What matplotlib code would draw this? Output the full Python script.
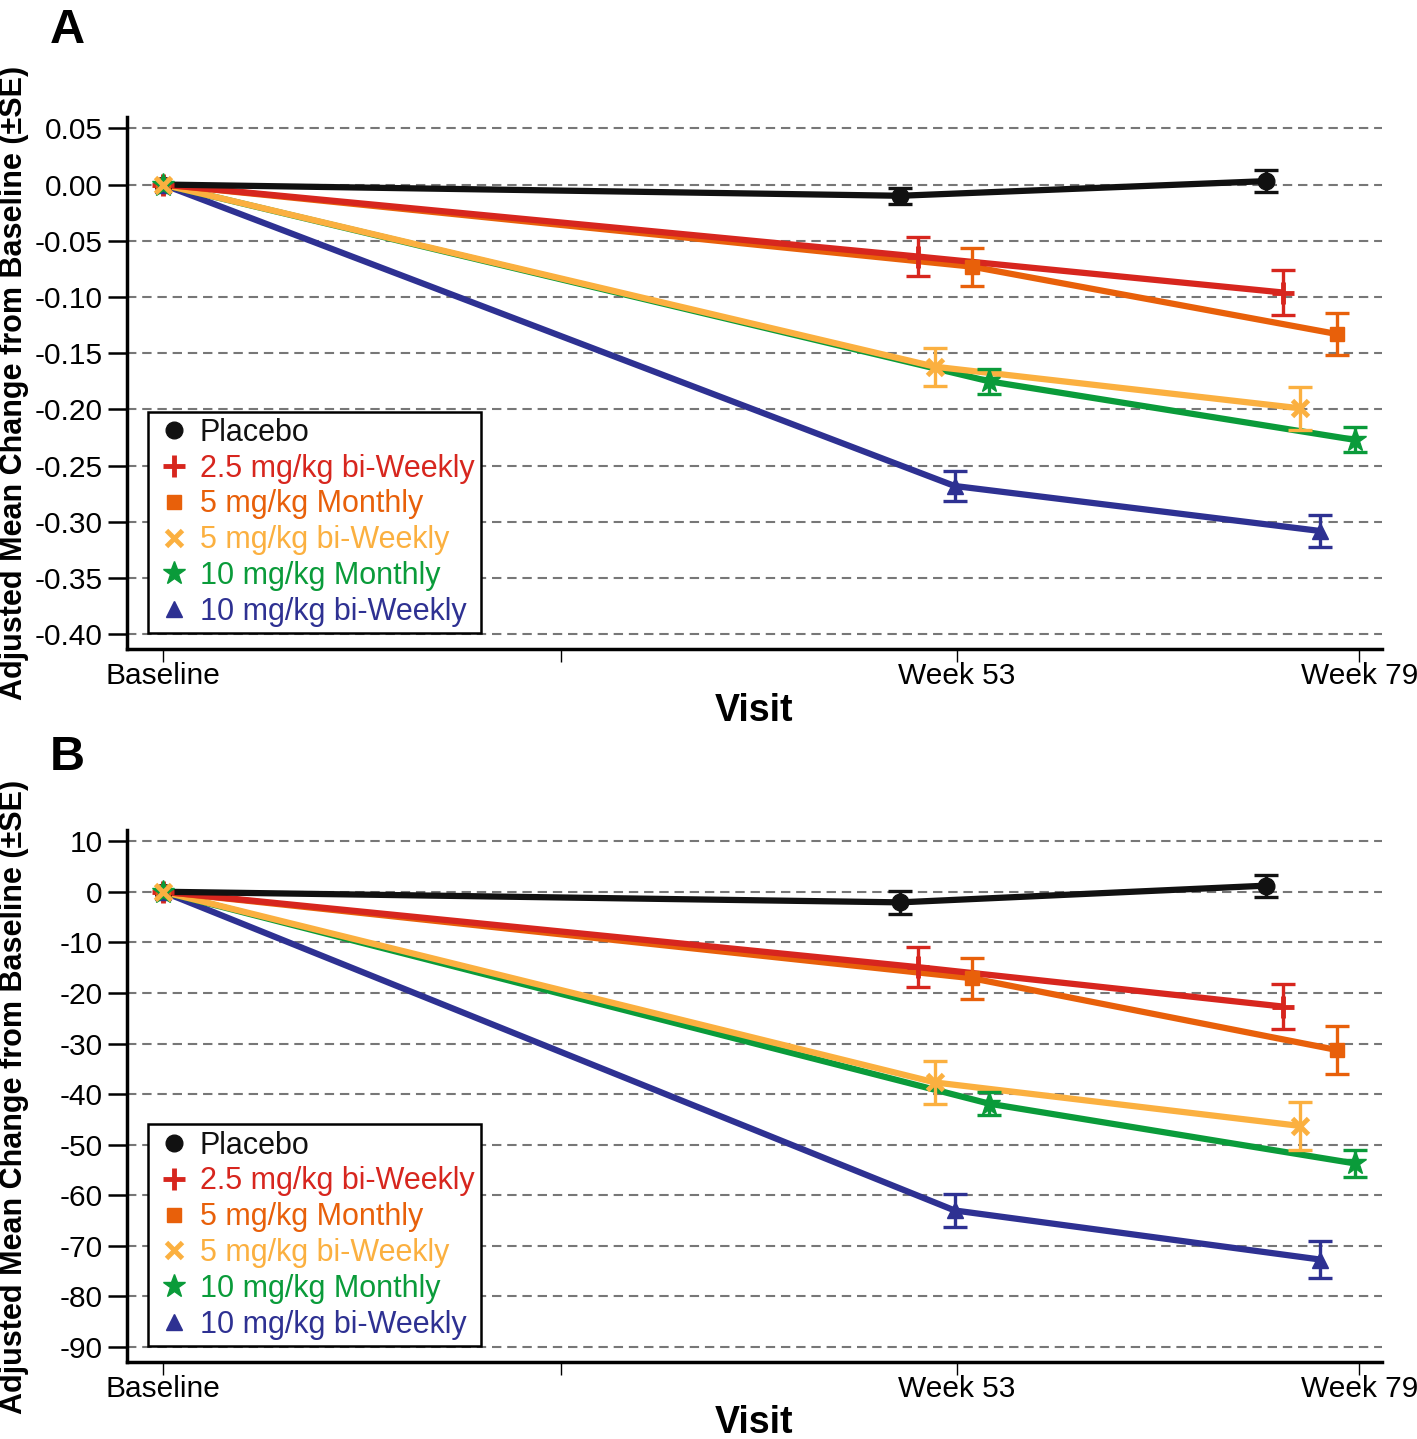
import numpy as np
import matplotlib
matplotlib.use("Agg")
import matplotlib.pyplot as plt
from matplotlib.lines import Line2D

plt.rcParams['font.family'] = ['Liberation Sans', 'DejaVu Sans']

#%%
# data (x = study day, 0 = baseline)

groups = ['Placebo', '2.5 mg/kg bi-Weekly', '5 mg/kg Monthly',
          '5 mg/kg bi-Weekly', '10 mg/kg Monthly', '10 mg/kg bi-Weekly']

tick_days = [0, 183, 365, 550]
tick_labels = ['Baseline', '', 'Week 53', 'Week 79']

x_placebo = [0, 339, 507]
x_25bw = [0, 347, 515]
x_5m = [0, 372, 540]
x_5bw = [0, 355, 523]
x_10m = [0, 380, 548]
x_10bw = [0, 364, 532]

# panel A
a_placebo = [0, -0.010, 0.003]
a_25bw = [0, -0.064, -0.096]
a_5m = [0, -0.073, -0.133]
a_5bw = [0, -0.162, -0.199]
a_10m = [0, -0.175, -0.227]
a_10bw = [0, -0.268, -0.308]

a_se_placebo = [0, 0.007, 0.010]
a_se_25bw = [0, 0.017, 0.020]
a_se_5m = [0, 0.017, 0.019]
a_se_5bw = [0, 0.017, 0.019]
a_se_10m = [0, 0.011, 0.011]
a_se_10bw = [0, 0.013, 0.014]

# panel B
b_placebo = [0, -2.1, 1.2]
b_25bw = [0, -14.9, -22.7]
b_5m = [0, -17.1, -31.3]
b_5bw = [0, -37.7, -46.3]
b_10m = [0, -41.9, -53.7]
b_10bw = [0, -63.0, -72.7]

b_se_placebo = [0, 2.3, 2.2]
b_se_25bw = [0, 4.0, 4.5]
b_se_5m = [0, 4.1, 4.7]
b_se_5bw = [0, 4.2, 4.7]
b_se_10m = [0, 2.3, 2.7]
b_se_10bw = [0, 3.3, 3.7]

a_yticks = [0.05, 0.00, -0.05, -0.10, -0.15, -0.20, -0.25, -0.30, -0.35, -0.40]
b_yticks = [10, 0, -10, -20, -30, -40, -50, -60, -70, -80, -90]

#%%
colors = ['#111111', '#d7261e', '#e8600a', '#fbb040', '#0a9b3a', '#2e3192']
markers = ['o', '+', 's', 'x', '*', '^']
msizes = [12, 16, 10.5, 12, 17, 12]
mews = [1, 3.5, 1, 3.5, 1, 1]
xs = [x_placebo, x_25bw, x_5m, x_5bw, x_10m, x_10bw]
# draw order so that lines overlap like the original
line_z = [8, 7, 6, 5, 4, 3]
marker_z = [10, 11, 12, 15, 14, 13]


def draw_panel(ax, ys, ses, yticks, ylim, fmt):
    for i in range(len(groups)):
        x = np.array(xs[i])
        y = np.array(ys[i])
        se = np.array(ses[i])
        ax.plot(x, y, color=colors[i], lw=4.5, zorder=line_z[i],
                solid_capstyle='butt')
        ax.errorbar(x[1:], y[1:], yerr=se[1:], fmt='none', ecolor=colors[i],
                    elinewidth=2.4, capsize=8.5, capthick=2.4, zorder=marker_z[i])
        ax.plot(x, y, ls='none', marker=markers[i], ms=msizes[i],
                color=colors[i], mec=colors[i], mew=mews[i], zorder=marker_z[i])

    ax.set_xlim(-16.5, 560.5)
    ax.set_ylim(*ylim)
    ax.set_xticks(tick_days)
    ax.set_xticklabels(tick_labels)
    ax.set_yticks(yticks)
    ax.set_yticklabels([fmt(v) for v in yticks])
    ax.yaxis.grid(True, ls=(0, (4.5, 2.8)), color='#777777', lw=1.5)
    ax.set_axisbelow(True)

    for s in ['top', 'right']:
        ax.spines[s].set_visible(False)
    for s in ['left', 'bottom']:
        ax.spines[s].set_linewidth(2.5)
    ax.tick_params(axis='x', length=9, width=1, pad=0, labelsize=21.5)
    ax.tick_params(axis='y', length=14, width=1.8, pad=3.5, labelsize=21.5)
    ax.set_xlabel('Visit', fontsize=27, fontweight='bold', labelpad=2)

    handles = [Line2D([], [], ls='none', marker=markers[i], ms=msizes[i],
                      color=colors[i], mec=colors[i], mew=mews[i])
               for i in range(len(groups))]
    leg = ax.legend(handles, groups, loc='lower left',
                    bbox_to_anchor=(0.0167, 0.0306), borderaxespad=0,
                    fontsize=22, frameon=True, fancybox=False, framealpha=1,
                    handlelength=1.3, handletextpad=0.2, borderpad=0.2,
                    labelspacing=0.19)
    leg.get_frame().set_edgecolor('black')
    leg.get_frame().set_linewidth(1.8)
    leg.set_zorder(20)
    for t, c in zip(leg.get_texts(), colors):
        t.set_color(c)


fig = plt.figure(figsize=(14.17, 14.39), dpi=100)
axA = fig.add_axes([0.0896, 0.5488, 0.8857, 0.3701])
axB = fig.add_axes([0.0896, 0.0535, 0.8857, 0.3697])

draw_panel(axA,
           [a_placebo, a_25bw, a_5m, a_5bw, a_10m, a_10bw],
           [a_se_placebo, a_se_25bw, a_se_5m, a_se_5bw, a_se_10m, a_se_10bw],
           a_yticks, (-0.4132, 0.0603), lambda v: f'{v:.2f}')
draw_panel(axB,
           [b_placebo, b_25bw, b_5m, b_5bw, b_10m, b_10bw],
           [b_se_placebo, b_se_25bw, b_se_5m, b_se_5bw, b_se_10m, b_se_10bw],
           b_yticks, (-92.96, 12.2), lambda v: f'{v:d}')

fig.text(50 / 1417, 1 - 43 / 1439, 'A', fontsize=35, fontweight='bold', va='baseline')
fig.text(50 / 1417, 1 - 770 / 1439, 'B', fontsize=35, fontweight='bold', va='baseline')

ylab = 'Adjusted Mean Change from Baseline (\u00b1SE)'
fig.text(14 / 1417, 1 - 383 / 1439, ylab, rotation=90, fontsize=22,
         fontweight='bold', ha='center', va='center')
fig.text(14 / 1417, 1 - 1097 / 1439, ylab, rotation=90, fontsize=22,
         fontweight='bold', ha='center', va='center')

fig.savefig('out.png', dpi=100)
